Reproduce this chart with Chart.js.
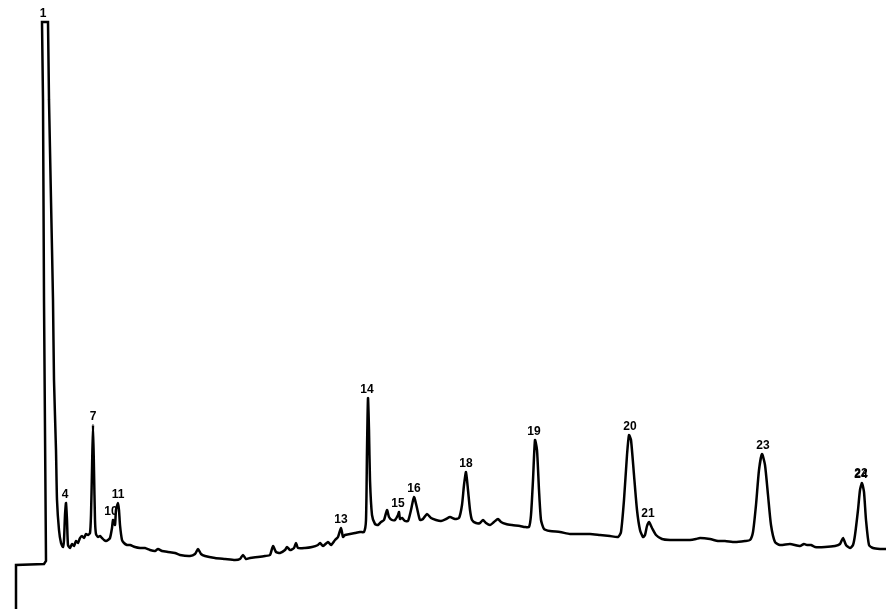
<!DOCTYPE html>
<html>
<head>
<meta charset="utf-8">
<script src="https://cdn.jsdelivr.net/npm/chart.js@4/dist/chart.umd.min.js"></script>
<style>
  html, body { margin: 0; padding: 0; background: #fff; }
  #wrap { width: 886px; height: 609px; }
</style>
</head>
<body>
<div id="wrap"><canvas id="chart" width="886" height="609"></canvas></div>
<script>
// retention time (arbitrary units) and detector signal
const time = [
  1.6, 1.6, 4.4, 4.6, 4.4, 4.3, 4.2, 4.8, 4.9, 5.1, 5.3, 5.4, 5.6, 5.7, 5.9, 6.1, 6.3, 6.4, 6.5, 6.6,
  6.7, 6.8, 7.0, 7.2, 7.4, 7.6, 7.8, 8.0, 8.2, 8.4, 8.6, 8.8, 9.0, 9.1, 9.2, 9.3, 9.4, 9.5, 9.6, 9.8,
  10.0, 10.2, 10.4, 10.6, 10.8, 11.0, 11.2, 11.3, 11.5, 11.6, 11.8, 11.9, 12.0, 12.2, 12.4, 12.7, 13.0, 13.5, 14.0, 14.5,
  15.0, 15.5, 15.8, 16.2, 16.8, 17.5, 18.0, 19.0, 19.5, 19.8, 20.1, 20.5, 21.5, 22.5, 23.5, 24.0, 24.3, 24.6, 25.0, 25.8,
  26.5, 27.0, 27.3, 27.6, 28.0, 28.5, 28.7, 29.0, 29.4, 29.6, 29.8, 30.5, 31.2, 31.8, 32.0, 32.3, 32.8, 33.1, 33.5, 33.8,
  34.1, 34.3, 34.5, 35.0, 35.5, 36.0, 36.4, 36.6, 36.7, 36.8, 36.9, 37.0, 37.2, 37.5, 37.8, 38.1, 38.4, 38.7, 38.9, 39.2,
  39.5, 39.8, 39.9, 40.0, 40.2, 40.5, 40.8, 41.1, 41.4, 41.7, 42.0, 42.3, 42.7, 43.1, 43.6, 44.1, 44.6, 45.0, 45.5, 45.9,
  46.2, 46.4, 46.6, 46.8, 47.0, 47.2, 47.6, 48.0, 48.3, 48.6, 49.0, 49.4, 49.8, 50.1, 50.6, 51.2, 52.0, 52.5, 52.9, 53.1,
  53.3, 53.5, 53.7, 53.9, 54.1, 54.4, 55.0, 56.0, 57.0, 58.0, 59.0, 60.0, 61.0, 61.8, 62.1, 62.4, 62.7, 62.9, 63.1, 63.4,
  63.7, 64.0, 64.3, 64.5, 64.7, 64.9, 65.2, 65.6, 66.2, 67.0, 68.0, 69.0, 69.6, 70.0, 71.0, 71.8, 72.5, 73.5, 74.5, 75.0,
  75.3, 75.6, 75.9, 76.2, 76.5, 76.8, 77.1, 77.5, 78.0, 79.0, 80.0, 80.4, 80.7, 81.1, 81.5, 82.5, 83.5, 84.0, 84.3, 84.6,
  85.0, 85.3, 85.5, 85.8, 86.0, 86.2, 86.4, 86.6, 86.9, 87.3, 88.0, 88.6
];
const signal = [
  0.0, 4.4, 4.5, 4.8, 30.9, 50.9, 58.7, 58.7, 50.9, 40.9, 30.9, 22.9, 15.9, 10.9, 7.9, 6.6, 6.2, 6.9, 9.4, 10.6,
  8.9, 6.4, 6.1, 6.5, 6.3, 6.8, 6.6, 7.1, 7.3, 7.1, 7.5, 7.4, 7.6, 9.4, 13.9, 18.4, 13.9, 8.9, 7.5, 7.2,
  7.3, 7.1, 6.9, 6.8, 6.9, 7.1, 8.1, 8.9, 8.4, 9.9, 10.6, 9.9, 8.4, 6.9, 6.6, 6.4, 6.4, 6.2, 6.1, 6.1,
  5.9, 5.8, 6.0, 5.8, 5.7, 5.6, 5.4, 5.3, 5.5, 6.0, 5.5, 5.3, 5.1, 5.0, 4.9, 5.0, 5.4, 5.0, 5.1, 5.2,
  5.3, 5.4, 6.3, 5.7, 5.6, 5.9, 6.2, 5.9, 6.1, 6.6, 6.1, 6.1, 6.2, 6.4, 6.6, 6.3, 6.7, 6.4, 6.9, 7.2,
  8.1, 7.2, 7.4, 7.5, 7.6, 7.7, 7.7, 8.9, 15.9, 21.1, 17.9, 12.9, 9.4, 8.5, 8.4, 8.7, 8.9, 9.9, 9.2, 8.9,
  8.9, 9.4, 9.7, 9.0, 9.1, 8.8, 8.8, 9.9, 11.2, 10.1, 8.9, 9.0, 9.5, 9.1, 8.9, 8.8, 9.0, 9.2, 9.0, 9.1,
  10.4, 12.4, 13.7, 11.9, 9.9, 8.9, 8.6, 8.6, 8.9, 8.6, 8.4, 8.7, 9.0, 8.7, 8.5, 8.4, 8.3, 8.2, 8.2, 9.4,
  12.9, 16.9, 15.9, 11.9, 8.9, 8.0, 7.8, 7.7, 7.5, 7.5, 7.5, 7.4, 7.3, 7.2, 7.7, 10.9, 15.4, 17.4, 16.9, 13.4,
  9.9, 7.9, 7.2, 7.4, 8.3, 8.7, 8.1, 7.4, 7.0, 6.9, 6.9, 6.9, 7.0, 7.1, 7.0, 6.8, 6.8, 6.7, 6.8, 6.9,
  7.7, 10.4, 13.9, 15.5, 14.4, 11.4, 8.4, 6.7, 6.4, 6.5, 6.3, 6.5, 6.4, 6.4, 6.2, 6.2, 6.3, 6.5, 7.1, 6.4,
  6.1, 6.4, 7.4, 9.9, 11.9, 12.6, 11.7, 8.9, 6.4, 6.1, 6.0, 6.0
];
// the pen step and the off-scale solvent peak are drawn straight, the rest smoothed
const straightUntil = 8;

// numbered peaks
const peakIds = ['1', '4', '7', '10', '11', '13', '14', '15', '16', '18', '19', '20', '21', '23', '24'];
const peakTimes = [4.3, 6.5, 9.3, 11.1, 11.8, 34.1, 36.7, 39.8, 41.4, 46.6, 53.4, 63.0, 64.8, 76.3, 86.1];
const peakHeights = [58.7, 10.6, 18.4, 8.9, 10.6, 8.1, 21.1, 9.7, 11.2, 13.7, 16.9, 17.4, 8.7, 15.5, 12.6];
const overprinted = { '24': '22' };

const points = time.map((t, i) => ({ x: t, y: signal[i] }));

const peakLabels = {
  id: 'peakLabels',
  afterDatasetsDraw(chart) {
    const ctx = chart.ctx;
    const xs = chart.scales.x, ys = chart.scales.y;
    ctx.save();
    ctx.font = "bold 12px 'Liberation Sans', Arial, sans-serif";
    ctx.fillStyle = '#000';
    ctx.textAlign = 'center';
    ctx.textBaseline = 'middle';
    peakIds.forEach((id, i) => {
      const px = xs.getPixelForValue(peakTimes[i]);
      const py = ys.getPixelForValue(peakHeights[i]) - 8;
      ctx.fillText(id, px, py);
      if (overprinted[id]) ctx.fillText(overprinted[id], px, py - 1);
    });
    ctx.restore();
  }
};

const traceStyle = {
  showLine: true,
  borderColor: '#000',
  borderWidth: 2.5,
  borderJoinStyle: 'round',
  borderCapStyle: 'round',
  pointRadius: 0,
  clip: false
};

new Chart(document.getElementById('chart'), {
  type: 'scatter',
  data: {
    datasets: [
      { ...traceStyle, data: points.slice(0, straightUntil + 1), tension: 0, borderJoinStyle: 'miter', borderCapStyle: 'butt' },
      { ...traceStyle, data: points.slice(straightUntil), tension: 0.2 }
    ]
  },
  options: {
    responsive: false,
    animation: false,
    layout: { padding: 0 },
    plugins: { legend: { display: false }, tooltip: { enabled: false } },
    scales: {
      x: { type: 'linear', min: 0, max: 88.6, display: false },
      y: { type: 'linear', min: 0, max: 60.9, display: false }
    }
  },
  plugins: [peakLabels]
});
</script>
</body>
</html>
